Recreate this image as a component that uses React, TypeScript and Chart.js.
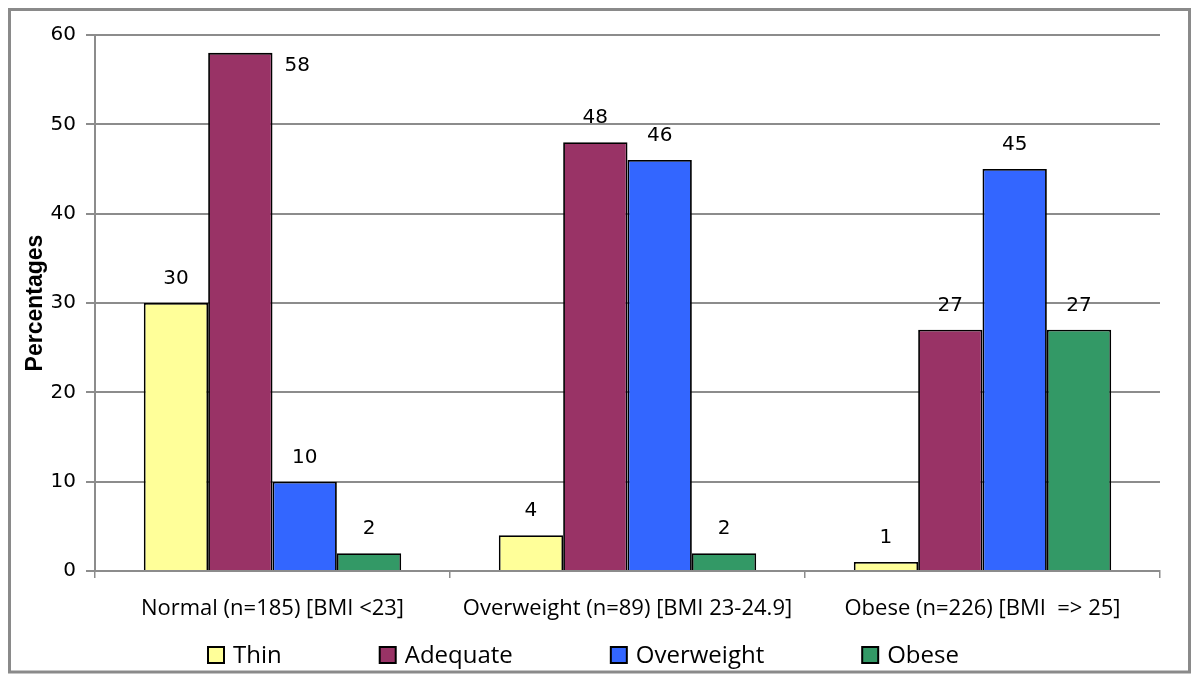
import React, { useEffect, useRef } from 'react';
import { Chart, registerables } from 'chart.js';

Chart.register(...registerables);

const categories = [
  'Normal (n=185) [BMI <23]',
  'Overweight (n=89) [BMI 23-24.9]',
  'Obese (n=226) [BMI  => 25]',
];
const seriesNames = ['Thin', 'Adequate', 'Overweight', 'Obese'];
const thinValues = [30, 4, 1];
const adequateValues = [58, 48, 27];
const overweightValues = [10, 46, 45];
const obeseValues = [2, 2, 27];
const seriesColors = ['#FFFF99', '#993366', '#3366FF', '#339966'];
const yMin = 0;
const yMax = 60;
const yStep = 10;
const yTitle = 'Percentages';

const GRID = '#8c8c8c';

const frameAndLegend = {
  id: 'frameAndLegend',
  beforeDraw(chart: any) {
    const { ctx, width, height } = chart;
    ctx.save();
    ctx.fillStyle = '#ffffff';
    ctx.fillRect(0, 0, width, height);
    ctx.restore();
  },
  afterDraw(chart: any) {
    const { ctx } = chart;
    ctx.save();
    ctx.strokeStyle = '#8a8a8a';
    ctx.lineWidth = 3;
    ctx.strokeRect(9.5, 9.5, 1180, 662.5);
    ctx.font = '24px "Open Sans"';
    ctx.textBaseline = 'middle';
    ctx.textAlign = 'left';
    let x = 208;
    const boxTop = 647;
    const box = 16;
    chart.data.datasets.forEach((ds: any) => {
      ctx.fillStyle = ds.backgroundColor;
      ctx.fillRect(x, boxTop, box, box);
      ctx.strokeStyle = '#000';
      ctx.lineWidth = 2;
      ctx.strokeRect(x, boxTop, box, box);
      ctx.fillStyle = '#000';
      const tx = x + box + 9;
      ctx.fillText(ds.label, tx, boxTop + box / 2 + 1);
      const w = ctx.measureText(ds.label).width;
      x = tx + w + 98;
    });
    ctx.restore();
  },
};

const valueLabels = {
  id: 'valueLabels',
  afterDatasetsDraw(chart: any) {
    const { ctx, chartArea } = chart;
    ctx.save();
    ctx.font = '20px "DejaVu Sans"';
    ctx.fillStyle = '#000';
    ctx.textBaseline = 'middle';
    chart.data.datasets.forEach((ds: any, i: number) => {
      const meta = chart.getDatasetMeta(i);
      meta.data.forEach((bar: any, j: number) => {
        const v = ds.data[j];
        const { x, y, width } = bar.getProps(['x', 'y', 'width'], true);
        let tx = x;
        let ty = y - 24;
        ctx.textAlign = 'center';
        if (ty - 10 < chartArea.top) {
          tx = x + width / 2 + 12;
          ty = y + 13;
          ctx.textAlign = 'left';
        }
        ctx.fillText(String(v), tx, ty);
      });
    });
    ctx.restore();
  },
};

export default function App() {
  const ref = useRef<HTMLCanvasElement | null>(null);

  useEffect(() => {
    document.body.style.margin = '0';
    const canvas = ref.current;
    if (!canvas) return;
    const values = [thinValues, adequateValues, overweightValues, obeseValues];
    const chart = new Chart(canvas, {
      type: 'bar',
      data: {
        labels: categories,
        datasets: seriesNames.map((name, i) => ({
          label: name,
          data: values[i],
          backgroundColor: seriesColors[i],
          borderColor: '#000000',
          borderWidth: 1.8,
          categoryPercentage: 0.725,
          barPercentage: 1,
        })),
      },
      options: {
        responsive: false,
        animation: false,
        devicePixelRatio: 1,
        layout: { padding: { left: 10, right: 40, top: 35, bottom: 0 } },
        plugins: {
          legend: { display: false },
          tooltip: { enabled: false },
          title: { display: false },
        },
        scales: {
          x: {
            grid: {
              display: true,
              drawOnChartArea: false,
              drawTicks: true,
              tickLength: 7,
              color: GRID,
              lineWidth: 1.5,
              offset: true,
            },
            border: { display: true, color: GRID, width: 2 },
            ticks: {
              color: '#000',
              font: { family: '"Open Sans"', size: 22 },
              padding: 18,
              maxRotation: 0,
              autoSkip: false,
            },
            afterFit: (s: any) => {
              s.height = 110;
            },
          },
          y: {
            min: yMin,
            max: yMax,
            ticks: {
              stepSize: yStep,
              color: '#000',
              font: { family: '"DejaVu Sans"', size: 20 },
              padding: 10,
            },
            grid: {
              color: GRID,
              lineWidth: 2,
              tickLength: 9,
              drawTicks: true,
            },
            border: { display: true, color: GRID, width: 2 },
            title: {
              display: true,
              text: yTitle,
              color: '#000',
              font: { family: '"Liberation Sans"', size: 23, weight: 'bold' },
              padding: { top: 12, bottom: 0 },
            },
            afterFit: (s: any) => {
              s.width = 85;
            },
          },
        },
      },
      plugins: [frameAndLegend, valueLabels],
    });
    return () => chart.destroy();
  }, []);

  return (
    <div style={{ width: 1200, height: 681 }}>
      <canvas ref={ref} width={1200} height={681} style={{ display: 'block' }} />
    </div>
  );
}
